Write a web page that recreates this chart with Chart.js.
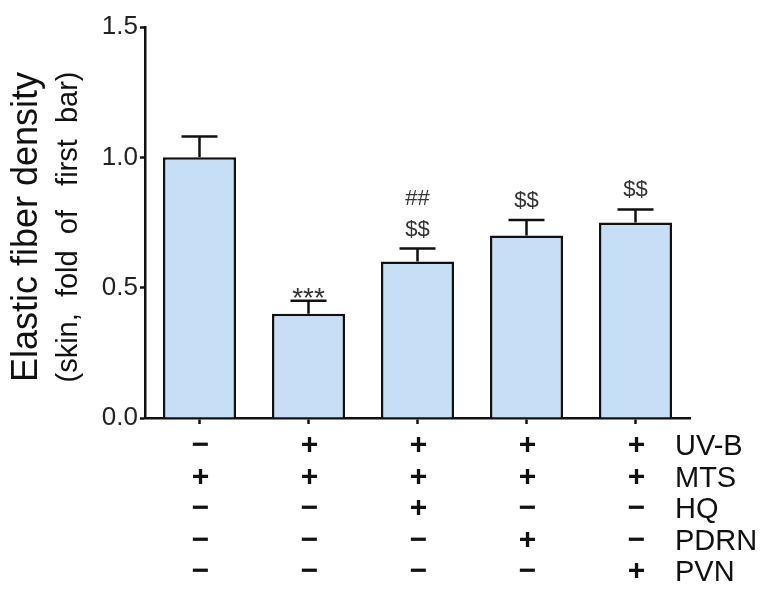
<!DOCTYPE html>
<html>
<head>
<meta charset="utf-8">
<script src="https://cdn.jsdelivr.net/npm/chart.js@4.4.1/dist/chart.umd.min.js"></script>
<style>
  html, body { margin: 0; padding: 0; background: #fff; }
  #wrap { width: 770px; height: 604px; position: relative; }
</style>
</head>
<body>
<div id="wrap"><canvas id="fiberChart"></canvas></div>
<script>
// Datos
const groups = ['G1', 'G2', 'G3', 'G4', 'G5'];
const densityMean = [1.0, 0.40, 0.60, 0.70, 0.75];
const densityErr = [0.08, 0.05, 0.05, 0.06, 0.05];
const yTicks = [0.0, 0.5, 1.0, 1.5];

// Marcas de significancia (de abajo hacia arriba)
const sigMarks = [[], ['***'], ['$$', '##'], ['$$'], ['$$']];

// Tabla de tratamientos bajo el eje
const factorNames = ['UV-B', 'MTS', 'HQ', 'PDRN', 'PVN'];
const uvb  = ['−', '+', '+', '+', '+'];
const mts  = ['+', '+', '+', '+', '+'];
const hq   = ['−', '−', '+', '−', '−'];
const pdrn = ['−', '−', '−', '+', '−'];
const pvn  = ['−', '−', '−', '−', '+'];
const factorRows = [uvb, mts, hq, pdrn, pvn];

const FONT = "'Liberation Sans', Arial, Helvetica, sans-serif";
const INK = '#111';

/**
 * Barras de error, marcas y tabla
 */
const extrasPlugin = {
  id: 'extras',
  afterDatasetsDraw(chart) {
    const { ctx, scales: { x, y } } = chart;
    ctx.save();
    ctx.strokeStyle = INK;
    ctx.lineWidth = 2.5;
    ctx.lineCap = 'butt';

    groups.forEach((g, i) => {
      const cx = x.getPixelForValue(i);
      const top = y.getPixelForValue(densityMean[i]);
      const capY = y.getPixelForValue(densityMean[i] + densityErr[i]);
      ctx.beginPath();
      ctx.moveTo(cx, top);
      ctx.lineTo(cx, capY);
      ctx.moveTo(cx - 18, capY);
      ctx.lineTo(cx + 18, capY);
      ctx.stroke();

      // marcas de significancia
      ctx.fillStyle = '#333';
      ctx.textAlign = 'center';
      ctx.textBaseline = 'alphabetic';
      sigMarks[i].forEach((m, k) => {
        if (m === '***') {
          ctx.font = `28px ${FONT}`;
          ctx.fillText(m, cx, capY + 6);
        } else {
          ctx.font = `22px ${FONT}`;
          ctx.fillText(m, cx, capY - 13 - k * 31);
        }
      });
    });

    // tabla de +/−
    ctx.fillStyle = INK;
    ctx.textBaseline = 'middle';
    const rowY0 = 446;
    const rowGap = 31.5;
    factorRows.forEach((row, r) => {
      const yy = rowY0 + r * rowGap;
      ctx.font = `bold 30px ${FONT}`;
      ctx.textAlign = 'center';
      row.forEach((s, i) => {
        ctx.fillText(s, x.getPixelForValue(i) + 1, yy);
      });
      ctx.font = `29px ${FONT}`;
      ctx.textAlign = 'left';
      ctx.fillText(factorNames[r], 675, yy + 1);
    });

    // título del eje Y (dos líneas)
    ctx.save();
    ctx.translate(27, 227);
    ctx.rotate(-Math.PI / 2);
    ctx.textAlign = 'center';
    ctx.textBaseline = 'middle';
    ctx.font = `36px ${FONT}`;
    ctx.fillText('Elastic fiber density', 0, 0);
    ctx.font = `29px ${FONT}`;
    ctx.fillText('(skin,  fold  of   first  bar)', 0, 42);
    ctx.restore();

    ctx.restore();
  }
};

const chart = new Chart(document.getElementById('fiberChart'), {
  type: 'bar',
  data: {
    labels: groups,
    datasets: [{
      data: densityMean,
      backgroundColor: '#c6dff7',
      borderColor: INK,
      borderWidth: 2.5,
      barPercentage: 0.67,
      categoryPercentage: 1.0,
    }],
  },
  options: {
    responsive: true,
    maintainAspectRatio: false,
    animation: false,
    layout: { padding: { top: 27, right: 80, bottom: 0, left: 0 } },
    plugins: {
      legend: { display: false },
      tooltip: { enabled: false },
    },
    scales: {
      x: {
        grid: {
          offset: false,
          drawOnChartArea: false,
          drawTicks: true,
          tickLength: 6,
          tickWidth: 2.5,
          tickColor: INK,
        },
        border: { color: INK, width: 2.5 },
        ticks: { display: false },
        afterFit: (scale) => { scale.height = 186; },
      },
      y: {
        min: 0,
        max: 1.5,
        afterBuildTicks: (scale) => { scale.ticks = yTicks.map((v) => ({ value: v })); },
        grid: {
          drawOnChartArea: false,
          drawTicks: true,
          tickLength: 5,
          tickWidth: 2.5,
          tickColor: INK,
        },
        border: { color: INK, width: 2.5 },
        ticks: {
          color: '#222',
          padding: 2,
          font: { family: FONT, size: 26 },
          callback: (v) => Number(v).toFixed(1),
        },
        afterFit: (scale) => { scale.width = 145; },
      },
    },
  },
  plugins: [extrasPlugin],
});
</script>
</body>
</html>
